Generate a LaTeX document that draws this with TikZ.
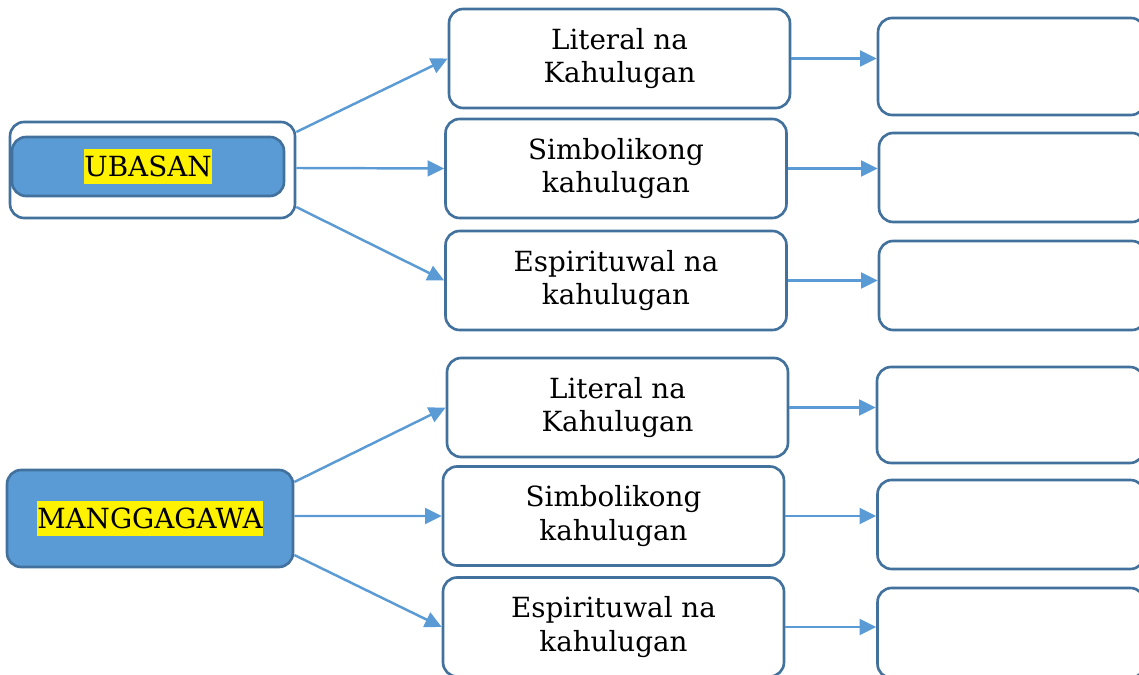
\documentclass[tikz,border=0pt]{standalone}
\usepackage{fontspec}
\setmainfont{DejaVu Serif}
\usetikzlibrary{arrows.meta}
\definecolor{boxline}{HTML}{41719C}
\definecolor{linkblue}{HTML}{5B9BD5}
\newcommand{\hilite}[1]{{\setlength{\fboxsep}{0pt}\colorbox{yellow}{\rule[-4pt]{0pt}{19.5pt}#1}}}
\tikzset{
  rbox/.style={draw=boxline,line width=1.5pt,rounded corners=8pt},
  kbox/.style={rbox,align=center,minimum width=6.82cm,minimum height=1.98cm,font=\fontsize{15.8}{19}\selectfont},
  ansbox/.style={rbox,minimum width=5.34cm},
  topic/.style={rbox,fill=linkblue,font=\fontsize{15.8}{19}\selectfont},
  link/.style={draw=linkblue,line width=1.4pt,-{Triangle[length=9.5pt,width=9pt]}}
}
\begin{document}
\begin{tikzpicture}[x=0.02cm,y=-0.02cm]
\useasboundingbox (0,0) rectangle (1139,675);
\clip (0,0) rectangle (1139,675);
%first topic with its frame
\node[rbox,minimum width=5.7cm,minimum height=1.92cm] (ubasanframe) at (152.5,170) {};
\node[topic,minimum width=5.44cm,minimum height=1.18cm] (ubasan) at (148,166.5) {\hilite{UBASAN}};
%second topic
\node[topic,minimum width=5.72cm,minimum height=1.94cm] (mang) at (150,518.5) {\hilite{MANGGAGAWA}};

%meaning boxes
\node[kbox] (lit1) at (619.5,58.5) {Literal na\\Kahulugan};
\node[kbox] (simb1) at (616,168.5) {Simbolikong\\kahulugan};
\node[kbox] (espi1) at (616,280.5) {Espirituwal na\\kahulugan};
\node[kbox] (lit2) at (617.5,407.5) {Literal na\\Kahulugan};
\node[kbox] (simb2) at (613.5,516) {Simbolikong\\kahulugan};
\node[kbox] (espi2) at (613.5,627) {Espirituwal na\\kahulugan};

%empty answer boxes
\node[ansbox,minimum height=1.94cm] (ans1) at (1011.5,66.5) {};
\node[ansbox,minimum height=1.78cm] (ans2) at (1012.5,177.5) {};
\node[ansbox,minimum height=1.78cm] (ans3) at (1012.5,285.5) {};
\node[ansbox,minimum height=1.92cm] (ans4) at (1010.5,415) {};
\node[ansbox,minimum height=1.78cm] (ans5) at (1011,524.5) {};
\node[ansbox,minimum height=1.8cm] (ans6) at (1011,633) {};

%topic to meaning
\foreach \src/\dy/\dst in {ubasanframe/0.76cm/lit1,ubasanframe/0.04cm/simb1,ubasanframe/-0.74cm/espi1,
                           mang/0.73cm/lit2,mang/0.05cm/simb2,mang/-0.73cm/espi2}
  \draw[link] ([yshift=\dy]\src.east) -- (\dst.west);
%meaning to answer
\foreach \src/\dst in {lit1/ans1,simb1/ans2,espi1/ans3,lit2/ans4,simb2/ans5,espi2/ans6}
  \draw[link] (\src.east) -- (\dst.west |- \src.east);
\end{tikzpicture}
\end{document}
